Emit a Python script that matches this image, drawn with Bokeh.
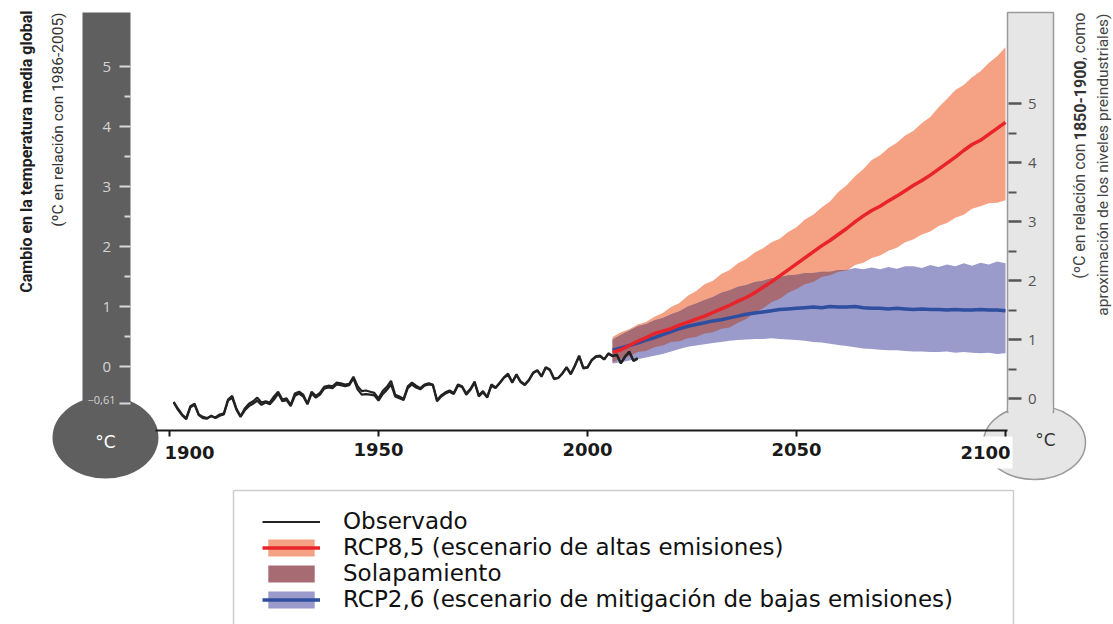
import numpy as np
from bokeh.plotting import figure
from bokeh.models import Range1d, LinearAxis, FixedTicker, Legend, LegendItem
from bokeh.core.properties import value
from bokeh.embed import file_html
from bokeh.resources import INLINE

# ---------------------------------------------------------------- data
# Observed global mean surface temperature anomaly (°C, relative to 1986-2005)
OBS_YEARS = list(range(1901, 2013))
OBS_A = [
    -0.59, -0.70, -0.80, -0.86, -0.66, -0.62, -0.80, -0.84, -0.86, -0.83,
    -0.85, -0.80, -0.78, -0.55, -0.49, -0.70, -0.83, -0.70, -0.62, -0.58,
    -0.52, -0.60, -0.58, -0.60, -0.50, -0.42, -0.55, -0.53, -0.64, -0.45,
    -0.42, -0.47, -0.62, -0.42, -0.49, -0.44, -0.34, -0.32, -0.33, -0.27,
    -0.28, -0.30, -0.29, -0.17, -0.33, -0.41, -0.40, -0.42, -0.44, -0.53,
    -0.41, -0.34, -0.24, -0.47, -0.50, -0.54, -0.33, -0.27, -0.32, -0.36,
    -0.30, -0.28, -0.30, -0.56, -0.48, -0.43, -0.40, -0.44, -0.30, -0.33,
    -0.45, -0.37, -0.25, -0.48, -0.41, -0.51, -0.30, -0.35, -0.27, -0.18,
    -0.12, -0.26, -0.13, -0.25, -0.30, -0.22, -0.10, -0.06, -0.16, -0.01,
    -0.05, -0.20, -0.19, -0.11, -0.01, -0.12, 0.02, 0.18, -0.02, -0.01,
    0.11, 0.17, 0.18, 0.12, 0.22, 0.18, 0.20, 0.06, 0.17, 0.25,
    0.10, 0.14,
]
OBS_B = [
    -0.60, -0.72, -0.81, -0.88, -0.68, -0.64, -0.81, -0.86, -0.87, -0.82,
    -0.86, -0.82, -0.80, -0.57, -0.52, -0.72, -0.84, -0.73, -0.66, -0.62,
    -0.57, -0.64, -0.60, -0.63, -0.55, -0.45, -0.58, -0.56, -0.66, -0.49,
    -0.45, -0.50, -0.63, -0.45, -0.52, -0.47, -0.37, -0.35, -0.36, -0.30,
    -0.31, -0.33, -0.31, -0.20, -0.38, -0.47, -0.46, -0.47, -0.48, -0.57,
    -0.46, -0.39, -0.30, -0.50, -0.53, -0.56, -0.36, -0.30, -0.35, -0.38,
    -0.32, -0.30, -0.31, -0.58, -0.50, -0.45, -0.42, -0.46, -0.32, -0.34,
    -0.47, -0.39, -0.27, -0.50, -0.43, -0.52, -0.32, -0.36, -0.28, -0.19,
    -0.14, -0.27, -0.14, -0.26, -0.31, -0.23, -0.11, -0.07, -0.17, -0.02,
    -0.06, -0.21, -0.19, -0.12, -0.02, -0.13, 0.01, 0.17, -0.03, -0.02,
    0.10, 0.16, 0.17, 0.12, 0.21, 0.17, 0.19, 0.05, 0.16, 0.24,
    0.09, 0.13,
]

# Projections, 2006-2100 (multi-model mean and spread)
PROJ_YEARS = list(range(2006, 2101, 2))
RCP85_MEAN = [
    0.24, 0.28, 0.35, 0.42, 0.48, 0.55, 0.59, 0.63, 0.69, 0.74,
    0.79, 0.84, 0.90, 0.96, 1.02, 1.09, 1.15, 1.23, 1.32, 1.41,
    1.51, 1.61, 1.71, 1.81, 1.91, 2.01, 2.10, 2.20, 2.30, 2.41,
    2.51, 2.60, 2.67, 2.76, 2.84, 2.93, 3.02, 3.10, 3.19, 3.29,
    3.39, 3.49, 3.60, 3.70, 3.77, 3.87, 3.97, 4.07,
]
RCP85_HIGH = [
    0.49, 0.57, 0.62, 0.70, 0.74, 0.83, 0.89, 0.99, 1.06, 1.18,
    1.26, 1.37, 1.43, 1.54, 1.61, 1.72, 1.79, 1.90, 1.97, 2.07,
    2.13, 2.24, 2.32, 2.45, 2.53, 2.65, 2.75, 2.91, 3.02, 3.17,
    3.29, 3.44, 3.52, 3.64, 3.73, 3.85, 3.93, 4.06, 4.16, 4.32,
    4.46, 4.61, 4.69, 4.82, 4.92, 5.06, 5.17, 5.32,
]
RCP85_LOW = [
    0.07, 0.13, 0.17, 0.24, 0.26, 0.32, 0.35, 0.41, 0.42, 0.47,
    0.49, 0.55, 0.57, 0.63, 0.65, 0.73, 0.79, 0.90, 0.97, 1.07,
    1.13, 1.23, 1.29, 1.37, 1.41, 1.49, 1.52, 1.58, 1.60, 1.69,
    1.73, 1.81, 1.85, 1.93, 1.98, 2.07, 2.12, 2.20, 2.25, 2.34,
    2.39, 2.48, 2.53, 2.63, 2.67, 2.72, 2.73, 2.77,
]
RCP26_MEAN = [
    0.27, 0.31, 0.35, 0.39, 0.44, 0.48, 0.53, 0.58, 0.63, 0.67,
    0.70, 0.73, 0.76, 0.78, 0.81, 0.84, 0.87, 0.89, 0.91, 0.93,
    0.95, 0.96, 0.97, 0.98, 0.99, 0.98, 1.00, 0.99, 0.99, 1.00,
    0.98, 0.97, 0.97, 0.96, 0.97, 0.96, 0.95, 0.96, 0.95, 0.95,
    0.94, 0.95, 0.94, 0.94, 0.95, 0.94, 0.94, 0.93,
]
RCP26_HIGH = [
    0.45, 0.53, 0.60, 0.67, 0.71, 0.77, 0.81, 0.87, 0.92, 1.00,
    1.05, 1.11, 1.16, 1.23, 1.27, 1.33, 1.36, 1.41, 1.43, 1.47,
    1.49, 1.52, 1.53, 1.56, 1.56, 1.58, 1.58, 1.61, 1.61, 1.64,
    1.62, 1.65, 1.62, 1.66, 1.63, 1.67, 1.67, 1.64, 1.69, 1.66,
    1.70, 1.67, 1.72, 1.68, 1.73, 1.70, 1.75, 1.72,
]
RCP26_LOW = [
    0.05, 0.07, 0.10, 0.12, 0.15, 0.18, 0.21, 0.25, 0.29, 0.33,
    0.35, 0.37, 0.39, 0.41, 0.43, 0.44, 0.45, 0.46, 0.46, 0.47,
    0.46, 0.45, 0.44, 0.43, 0.41, 0.40, 0.38, 0.36, 0.34, 0.32,
    0.30, 0.29, 0.28, 0.27, 0.27, 0.26, 0.25, 0.25, 0.24, 0.24,
    0.25, 0.23, 0.24, 0.23, 0.22, 0.23, 0.21, 0.22,
]

X_TICKS = [1900, 1950, 2000, 2050, 2100]
LEFT_TICKS = [-0.61, 0, 1, 2, 3, 4, 5]
LEFT_MINOR = [0.5, 1.5, 2.5, 3.5, 4.5]
RIGHT_TICKS = [0, 1, 2, 3, 4, 5]
RIGHT_MINOR = [0.5, 1.5, 2.5, 3.5, 4.5]
BASELINE_OFFSET_LABEL = "\u22120,61"

LEFT_TITLE = "Cambio en la temperatura media global"
LEFT_SUBTITLE = "(ºC en relación con 1986-2005)"
RIGHT_SUB_A = "(ºC en relación con"
RIGHT_SUB_B = "1850-1900"
RIGHT_SUB_C = ", como"
RIGHT_SUB_2 = "aproximación de los niveles preindustriales)"
LEGEND_LABELS = [
    "Observado",
    "RCP8,5 (escenario de altas emisiones)",
    "Solapamiento",
    "RCP2,6 (escenario de mitigación de bajas emisiones)",
]

# ---------------------------------------------------------------- layout helpers
W, H = 1113, 624
PX_PER_YEAR = 4.18
X_AT_1900 = 169.0
PX_PER_DEG = 60.0
Y_AT_ZERO = 366.0
PX_PER_DEG_R = 59.0
Y_AT_ZERO_R = 398.0


def xd(px):
    return 1900 + (px - X_AT_1900) / PX_PER_YEAR


def yd(py):
    return (Y_AT_ZERO - py) / PX_PER_DEG


def wd(px):
    return px / PX_PER_YEAR


def hd(px):
    return px / PX_PER_DEG


p = figure(
    width=W, height=H,
    x_range=Range1d(xd(0), xd(W)), y_range=Range1d(yd(H), yd(0)),
    output_backend="svg", toolbar_location=None,
    x_axis_location=None, y_axis_location=None, min_border=0,
)
p.extra_y_ranges = {"r": Range1d((Y_AT_ZERO_R - H) / PX_PER_DEG_R, Y_AT_ZERO_R / PX_PER_DEG_R)}
p.grid.visible = False
p.outline_line_color = None
p.background_fill_color = "white"
p.border_fill_color = "white"

# ---------------------------------------------------------------- thermometers
DARK = "#5f5f5f"
p.ellipse(x=[xd(105)], y=[yd(437)], width=wd(106), height=hd(82), fill_color=DARK, line_color=None)
p.quad(left=[xd(82)], right=[xd(130)], top=[yd(12)], bottom=[yd(420)], fill_color=DARK, line_color=None)

LIGHT, EDGE = "#e6e6e6", "#9a9a9a"
p.ellipse(x=[xd(1034)], y=[yd(442)], width=wd(102), height=hd(74),
          fill_color=LIGHT, line_color=EDGE, line_width=1.5)
p.quad(left=[xd(1007)], right=[xd(1053)], top=[yd(12)], bottom=[yd(412)],
       fill_color=LIGHT, line_color=EDGE, line_width=1.5)
p.quad(left=[xd(1008)], right=[xd(1052)], top=[yd(404)], bottom=[yd(418)],
       fill_color=LIGHT, line_color=None)
# white plate behind the last year label
p.quad(left=[xd(958)], right=[xd(1012)], top=[yd(436)], bottom=[yd(468)],
       fill_color="white", line_color=None)

# ---------------------------------------------------------------- legend frame
p.quad(left=[xd(233)], right=[xd(1013)], top=[yd(490)], bottom=[yd(650)],
       fill_color="white", line_color="#cdcdcd", line_width=1.5)

# ---------------------------------------------------------------- projections
lo85, hi85 = np.array(RCP85_LOW), np.array(RCP85_HIGH)
lo26, hi26 = np.array(RCP26_LOW), np.array(RCP26_HIGH)
ov_lo = np.maximum(lo85, lo26)
ov_hi = np.maximum(np.minimum(hi85, hi26), ov_lo)

band85 = p.varea(x=PROJ_YEARS, y1=RCP85_LOW, y2=RCP85_HIGH, fill_color="#f4a283")
band26 = p.varea(x=PROJ_YEARS, y1=RCP26_LOW, y2=RCP26_HIGH, fill_color="#9a9bcb")
band_ov = p.varea(x=PROJ_YEARS, y1=ov_lo, y2=ov_hi, fill_color="#a76b74")
line26 = p.line(PROJ_YEARS, RCP26_MEAN, line_color="#2e4ea0", line_width=3.5)
line85 = p.line(PROJ_YEARS, RCP85_MEAN, line_color="#e8232a", line_width=3.5)

# ---------------------------------------------------------------- observations
p.line(OBS_YEARS, OBS_B, line_color="#222222", line_width=2.2)
obs = p.line(OBS_YEARS, OBS_A, line_color="#222222", line_width=2.2)

# ---------------------------------------------------------------- axes
xaxis = LinearAxis(fixed_location=yd(429.5), ticker=FixedTicker(ticks=X_TICKS),
                   bounds=(xd(155), xd(1007)))
xaxis.axis_line_color = "#1a1a1a"
xaxis.axis_line_width = 2
xaxis.major_tick_in = 0
xaxis.major_tick_out = 6
xaxis.major_tick_line_width = 2
xaxis.major_tick_line_color = "#1a1a1a"
xaxis.minor_tick_line_color = None
xaxis.major_label_standoff = 7
xaxis.major_label_text_font = "DejaVu Sans"
xaxis.major_label_text_font_size = "18px"
xaxis.major_label_text_font_style = "bold"
xaxis.major_label_text_color = "#1a1a1a"
xaxis.major_label_overrides = {1900: "", 2100: ""}
p.add_layout(xaxis, "below")

for yr, dx in ((1900, 20), (2100, -20)):
    p.text(x=[yr], y=[yd(452)], text=[str(yr)], x_offset=dx,
           text_align="center", text_baseline="middle",
           text_font=value("DejaVu Sans"), text_font_size="18px",
           text_font_style="bold", text_color="#1a1a1a")

laxis = LinearAxis(fixed_location=xd(129.5),
                   ticker=FixedTicker(ticks=LEFT_TICKS, minor_ticks=LEFT_MINOR))
laxis.axis_line_color = None
laxis.major_tick_in = 0
laxis.major_tick_out = 11
laxis.minor_tick_in = 0
laxis.minor_tick_out = 6
laxis.major_tick_line_color = "#d9d9d9"
laxis.minor_tick_line_color = "#d9d9d9"
laxis.major_tick_line_width = 2
laxis.minor_tick_line_width = 2
laxis.major_label_standoff = 8
laxis.major_label_text_font = "Open Sans"
laxis.major_label_text_font_size = "15px"
laxis.major_label_text_color = "#d4d4d4"
laxis.major_label_overrides = {-0.61: ""}
p.add_layout(laxis, "left")
p.text(x=[xd(115)], y=[-0.61], text=[BASELINE_OFFSET_LABEL], y_offset=-3,
       text_align="right", text_baseline="middle",
       text_font=value("Open Sans"), text_font_size="11px", text_color="#d4d4d4")

raxis = LinearAxis(y_range_name="r", fixed_location=xd(1007.5),
                   ticker=FixedTicker(ticks=RIGHT_TICKS, minor_ticks=RIGHT_MINOR))
raxis.axis_line_color = None
raxis.major_tick_in = 0
raxis.major_tick_out = 13
raxis.minor_tick_in = 0
raxis.minor_tick_out = 8
raxis.major_tick_line_color = "#555555"
raxis.minor_tick_line_color = "#555555"
raxis.major_tick_line_width = 2.5
raxis.minor_tick_line_width = 2
raxis.major_label_standoff = 7
raxis.major_label_text_font = "Open Sans"
raxis.major_label_text_font_size = "15px"
raxis.major_label_text_color = "#555555"
p.add_layout(raxis, "right")

# ---------------------------------------------------------------- bulb labels
p.text(x=[xd(105)], y=[yd(441)], text=["°C"], text_align="center", text_baseline="middle",
       text_font=value("DejaVu Sans"), text_font_size="17px", text_color="white")
p.text(x=[xd(1045)], y=[yd(439)], text=["°C"], text_align="center", text_baseline="middle",
       text_font=value("DejaVu Sans"), text_font_size="17px", text_color="#333333")

# ---------------------------------------------------------------- vertical titles
TF = value("Roboto")
HALF_PI = np.pi / 2
p.text(x=[xd(26)], y=[yd(10)], text=[LEFT_TITLE], angle=HALF_PI,
       text_align="right", text_baseline="middle", text_font=TF,
       text_font_size="16px", text_font_style="bold", text_color="#1e1e1e")
p.text(x=[xd(57)], y=[yd(12)], text=[LEFT_SUBTITLE], angle=HALF_PI,
       text_align="right", text_baseline="middle", text_font=TF,
       text_font_size="15.5px", text_color="#333333")
# first right-hand line is set in three runs so the reference period reads in bold
p.text(x=[xd(1079)], y=[yd(12)], text=[RIGHT_SUB_C], angle=HALF_PI,
       text_align="right", text_baseline="middle", text_font=TF,
       text_font_size="16px", text_color="#444444")
p.text(x=[xd(1079)], y=[yd(60)], text=[RIGHT_SUB_B], angle=HALF_PI,
       text_align="right", text_baseline="middle", text_font=TF,
       text_font_size="16px", text_font_style="bold", text_color="#333333")
p.text(x=[xd(1079)], y=[yd(143)], text=[RIGHT_SUB_A], angle=HALF_PI,
       text_align="right", text_baseline="middle", text_font=TF,
       text_font_size="16px", text_color="#444444")
p.text(x=[xd(1102)], y=[yd(13)], text=[RIGHT_SUB_2], angle=HALF_PI,
       text_align="right", text_baseline="middle", text_font=TF,
       text_font_size="15.5px", text_color="#444444")

# ---------------------------------------------------------------- legend
legend = Legend(
    items=[
        LegendItem(label=LEGEND_LABELS[0], renderers=[obs]),
        LegendItem(label=LEGEND_LABELS[1], renderers=[band85, line85]),
        LegendItem(label=LEGEND_LABELS[2], renderers=[band_ov]),
        LegendItem(label=LEGEND_LABELS[3], renderers=[band26, line26]),
    ],
    location=(262, 12),
    orientation="vertical",
    border_line_alpha=0, background_fill_alpha=0,
    padding=0, margin=0, spacing=0,
    glyph_width=58, glyph_height=21, label_height=21,
    label_standoff=23,
    label_text_font="DejaVu Sans", label_text_font_size="23px",
    label_text_color="#111111",
)
p.add_layout(legend)

open("out.html", "w").write(file_html(p, INLINE))
